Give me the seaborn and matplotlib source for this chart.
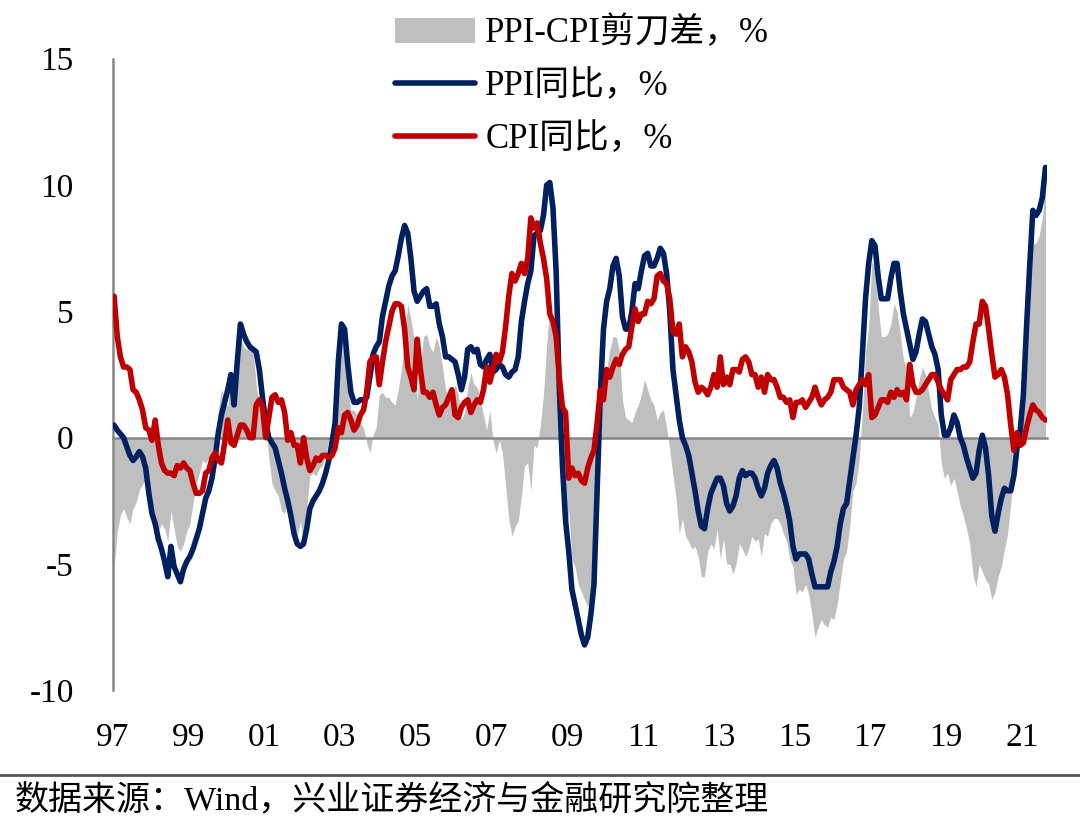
import numpy as np
import pandas as pd
import matplotlib
matplotlib.use('Agg')
import matplotlib.pyplot as plt
import seaborn as sns
from matplotlib.lines import Line2D

# PPI同比，% (1997年从2月开始, 2021年到9月)
ppi_1997 = [0.5, 0.3, 0.15, 0.0, -0.35, -0.7, -0.9, -0.75, -0.55, -0.75, -1.2]
ppi_1998 = [-2.2, -3.0, -3.4, -4.0, -4.4, -4.9, -5.5, -4.3, -5.1, -5.4, -5.7, -5.2]
ppi_1999 = [-4.9, -4.7, -4.4, -4.0, -3.6, -3.0, -2.4, -2.1, -1.6, -0.8, 0.2, 0.9]
ppi_2000 = [1.4, 1.9, 2.5, 1.3, 3.0, 4.5, 4.1, 3.8, 3.6, 3.5, 3.4, 2.7]
ppi_2001 = [1.6, 0.6, 0.0, -0.2, -0.4, -0.9, -1.4, -2.0, -2.5, -3.1, -3.8, -4.2]
ppi_2002 = [-4.3, -4.2, -3.6, -2.8, -2.5, -2.3, -2.1, -1.8, -1.4, -0.9, -0.2, 0.6]
ppi_2003 = [3.0, 4.5, 4.3, 2.9, 1.8, 1.4, 1.4, 1.5, 1.5, 1.6, 2.4, 3.3]
ppi_2004 = [3.6, 3.8, 4.8, 5.4, 6.0, 6.4, 6.6, 7.2, 7.9, 8.4, 8.1, 7.1]
ppi_2005 = [5.8, 5.4, 5.6, 5.8, 5.9, 5.2, 5.2, 5.3, 4.5, 4.0, 3.2, 3.2]
ppi_2006 = [3.1, 3.0, 2.5, 1.9, 2.4, 3.5, 3.6, 3.4, 3.5, 2.9, 2.8, 3.1]
ppi_2007 = [3.3, 2.6, 2.7, 2.9, 2.8, 2.5, 2.4, 2.6, 2.7, 3.2, 4.6, 5.4]
ppi_2008 = [6.1, 6.6, 8.0, 8.1, 8.2, 8.8, 10.0, 10.1, 9.1, 6.6, 2.0, -1.1]
ppi_2009 = [-3.3, -4.5, -6.0, -6.6, -7.2, -7.8, -8.2, -7.9, -7.0, -5.8, -2.1, 1.7]
ppi_2010 = [4.3, 5.4, 5.9, 6.8, 7.1, 6.4, 4.8, 4.3, 4.3, 5.0, 6.1, 5.9]
ppi_2011 = [6.6, 7.2, 7.3, 6.8, 6.8, 7.1, 7.5, 7.3, 6.5, 5.0, 2.7, 1.7]
ppi_2012 = [0.7, 0.0, -0.3, -0.7, -1.4, -2.1, -2.9, -3.5, -3.6, -2.8, -2.2, -1.9]
ppi_2013 = [-1.6, -1.6, -1.9, -2.6, -2.9, -2.7, -2.3, -1.6, -1.3, -1.5, -1.4, -1.4]
ppi_2014 = [-1.6, -2.0, -2.3, -2.0, -1.4, -1.1, -0.9, -1.2, -1.8, -2.2, -2.7, -3.3]
ppi_2015 = [-4.3, -4.8, -4.6, -4.6, -4.6, -4.8, -5.4, -5.9, -5.9, -5.9, -5.9, -5.9]
ppi_2016 = [-5.3, -4.9, -4.3, -3.4, -2.8, -2.6, -1.7, -0.8, 0.1, 1.2, 3.3, 5.5]
ppi_2017 = [6.9, 7.8, 7.6, 6.4, 5.5, 5.5, 5.5, 6.3, 6.9, 6.9, 5.8, 4.9]
ppi_2018 = [4.3, 3.7, 3.1, 3.4, 4.1, 4.7, 4.6, 4.1, 3.6, 3.3, 2.7, 0.9]
ppi_2019 = [0.1, 0.1, 0.4, 0.9, 0.6, 0.0, -0.3, -0.8, -1.2, -1.6, -1.4, -0.5]
ppi_2020 = [0.1, -0.4, -1.5, -3.1, -3.7, -3.0, -2.4, -2.0, -2.1, -2.1, -1.5, -0.4]
ppi_2021 = [0.3, 1.7, 4.4, 6.8, 9.0, 8.8, 9.0, 9.5, 10.7]

# CPI同比，%
cpi_1997 = [5.6, 4.0, 3.2, 2.8, 2.8, 2.7, 1.9, 1.8, 1.5, 1.1, 0.4]
cpi_1998 = [0.3, -0.1, 0.7, -0.3, -1.0, -1.3, -1.4, -1.4, -1.5, -1.1, -1.2, -1.0]
cpi_1999 = [-1.2, -1.3, -1.8, -2.2, -2.2, -2.1, -1.4, -1.3, -0.8, -0.6, -0.9, -1.0]
cpi_2000 = [-0.2, 0.7, -0.2, -0.3, 0.1, 0.5, 0.5, 0.3, 0.0, 0.0, 1.3, 1.5]
cpi_2001 = [1.2, 0.0, 0.8, 1.6, 1.7, 1.4, 1.5, 1.0, -0.1, 0.2, -0.3, -0.3]
cpi_2002 = [-1.0, 0.0, -0.8, -1.3, -1.1, -0.8, -0.9, -0.7, -0.7, -0.8, -0.7, -0.4]
cpi_2003 = [0.4, 0.2, 0.9, 1.0, 0.7, 0.3, 0.5, 0.9, 1.1, 1.8, 3.0, 3.2]
cpi_2004 = [3.2, 2.1, 3.0, 3.8, 4.4, 5.0, 5.3, 5.3, 5.2, 4.3, 2.8, 2.4]
cpi_2005 = [1.9, 3.9, 2.7, 1.8, 1.8, 1.6, 1.8, 1.3, 0.9, 1.2, 1.3, 1.6]
cpi_2006 = [1.9, 0.9, 0.8, 1.2, 1.4, 1.5, 1.0, 1.3, 1.5, 1.4, 1.9, 2.8]
cpi_2007 = [2.2, 2.7, 3.3, 3.0, 3.4, 4.4, 5.6, 6.5, 6.2, 6.5, 6.9, 6.5]
cpi_2008 = [7.1, 8.7, 8.3, 8.5, 7.7, 7.1, 6.3, 4.9, 4.6, 4.0, 2.4, 1.2]
cpi_2009 = [1.0, -1.6, -1.2, -1.5, -1.4, -1.7, -1.8, -1.2, -0.8, -0.5, 0.6, 1.9]
cpi_2010 = [1.5, 2.7, 2.4, 2.8, 3.1, 2.9, 3.3, 3.5, 3.6, 4.4, 5.1, 4.6]
cpi_2011 = [4.9, 4.9, 5.4, 5.3, 5.5, 6.4, 6.5, 6.2, 6.1, 5.5, 4.2, 4.1]
cpi_2012 = [4.5, 3.2, 3.6, 3.4, 3.0, 2.2, 1.8, 2.0, 1.9, 1.7, 2.0, 2.5]
cpi_2013 = [2.0, 3.2, 2.1, 2.4, 2.1, 2.7, 2.7, 2.6, 3.1, 3.2, 3.0, 2.5]
cpi_2014 = [2.5, 2.0, 2.4, 1.8, 2.5, 2.3, 2.3, 2.0, 1.6, 1.6, 1.4, 1.5]
cpi_2015 = [0.8, 1.4, 1.4, 1.5, 1.2, 1.4, 1.6, 2.0, 1.6, 1.3, 1.5, 1.6]
cpi_2016 = [1.8, 2.3, 2.3, 2.3, 2.0, 1.9, 1.8, 1.3, 1.9, 2.1, 2.3, 2.1]
cpi_2017 = [2.5, 0.8, 0.9, 1.2, 1.5, 1.5, 1.4, 1.8, 1.6, 1.9, 1.7, 1.8]
cpi_2018 = [1.5, 2.9, 2.1, 1.8, 1.8, 1.9, 2.1, 2.3, 2.5, 2.5, 2.2, 1.9]
cpi_2019 = [1.7, 1.5, 2.3, 2.5, 2.7, 2.7, 2.8, 2.8, 3.0, 3.8, 4.5, 4.5]
cpi_2020 = [5.4, 5.2, 4.3, 3.3, 2.4, 2.5, 2.7, 2.4, 1.7, 0.5, -0.5, 0.2]
cpi_2021 = [-0.3, -0.2, 0.4, 0.9, 1.3, 1.1, 1.0, 0.8, 0.7]

tick_labels = ['97', '99', '01', '03', '05', '07', '09', '11', '13', '15', '17', '19', '21']

ppi = (ppi_1997 + ppi_1998 + ppi_1999 + ppi_2000 + ppi_2001 + ppi_2002 + ppi_2003
       + ppi_2004 + ppi_2005 + ppi_2006 + ppi_2007 + ppi_2008 + ppi_2009 + ppi_2010
       + ppi_2011 + ppi_2012 + ppi_2013 + ppi_2014 + ppi_2015 + ppi_2016 + ppi_2017
       + ppi_2018 + ppi_2019 + ppi_2020 + ppi_2021)
cpi = (cpi_1997 + cpi_1998 + cpi_1999 + cpi_2000 + cpi_2001 + cpi_2002 + cpi_2003
       + cpi_2004 + cpi_2005 + cpi_2006 + cpi_2007 + cpi_2008 + cpi_2009 + cpi_2010
       + cpi_2011 + cpi_2012 + cpi_2013 + cpi_2014 + cpi_2015 + cpi_2016 + cpi_2017
       + cpi_2018 + cpi_2019 + cpi_2020 + cpi_2021)

df = pd.DataFrame({'month': pd.date_range('1997-02-01', periods=len(ppi), freq='MS'),
                   'ppi': ppi, 'cpi': cpi})
df['k'] = np.arange(len(df))
df['gap'] = df['ppi'] - df['cpi']

sns.set_style('white')
plt.rcParams['font.family'] = ['Liberation Serif', 'Noto Sans CJK SC']
plt.rcParams['axes.unicode_minus'] = False
plt.rcParams['text.color'] = 'black'

fig = plt.figure(figsize=(10.8, 8.19), dpi=100)
ax = fig.add_axes([0.1042, 0.157, 0.8653, 0.7713])

gray = '#868686'
ax.fill_between(df['k'], 0, df['gap'], color='#BFBFBF', lw=0, zorder=1,
                label='PPI-CPI剪刀差，%')
sns.lineplot(data=df, x='k', y='ppi', color='#002060', lw=4, ax=ax, zorder=3,
             label='PPI同比，%', solid_joinstyle='round', solid_capstyle='round')
sns.lineplot(data=df, x='k', y='cpi', color='#C00000', lw=4, ax=ax, zorder=4,
             label='CPI同比，%', solid_joinstyle='round', solid_capstyle='round')

ax.set_xlim(-0.5, len(df) - 0.5)
ax.set_ylim(-10, 15)
ax.set_yticks([-10, -5, 0, 5, 10, 15])
ax.set_xlabel('')
ax.set_ylabel('')

ax.spines['top'].set_visible(False)
ax.spines['right'].set_visible(False)
ax.spines['bottom'].set_position(('data', 0))
for s in ['left', 'bottom']:
    ax.spines[s].set_color(gray)
    ax.spines[s].set_linewidth(1.8)
ax.spines['bottom'].set_zorder(2)

tick_pos = np.arange(0, len(df), 24) - 0.5
ax.set_xticks(tick_pos)
ax.tick_params(axis='x', direction='in', length=6, width=1.4, color=gray, labelbottom=False)
ax.tick_params(axis='y', direction='in', length=6, width=1.4, color=gray,
               labelsize=24, pad=28, labelcolor='black')

sec = ax.secondary_xaxis('bottom')
sec.set_xticks(tick_pos, tick_labels)
sec.tick_params(length=0, labelsize=24, pad=23, labelcolor='black')
sec.spines['bottom'].set_visible(False)

handles, labels = ax.get_legend_handles_labels()
order = ['PPI-CPI剪刀差，%', 'PPI同比，%', 'CPI同比，%']
hmap = dict(zip(labels, handles))
ax.legend([hmap[o] for o in order], order, loc='upper left',
          bbox_to_anchor=(395 / 1080, 1 - 17 / 819), bbox_transform=fig.transFigure,
          frameon=False, fontsize=25, handlelength=2.3, handletextpad=0.3,
          labelspacing=0.57, borderpad=0, borderaxespad=0)

fig.add_artist(Line2D([0, 1], [1 - 775 / 819] * 2, transform=fig.transFigure,
                      color='#555555', lw=2))
fig.text(15 / 1080, 1 - 800 / 819, '数据来源：Wind，兴业证券经济与金融研究院整理',
         fontsize=24.5, ha='left', va='center', color='black')

fig.savefig('out.png', dpi=100)
